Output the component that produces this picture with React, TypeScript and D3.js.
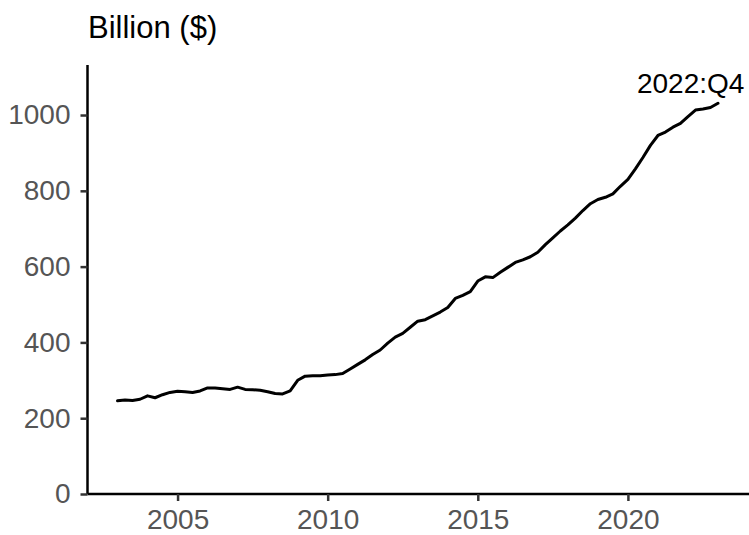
import React, { useEffect, useRef } from 'react';
import * as d3 from 'd3';

// quarters from 2002:Q4 to 2022:Q4, plotted at the end of each quarter
const years: number[] = [
    2002,
    2003, 2003, 2003, 2003,
    2004, 2004, 2004, 2004,
    2005, 2005, 2005, 2005,
    2006, 2006, 2006, 2006,
    2007, 2007, 2007, 2007,
    2008, 2008, 2008, 2008,
    2009, 2009, 2009, 2009,
    2010, 2010, 2010, 2010,
    2011, 2011, 2011, 2011,
    2012, 2012, 2012, 2012,
    2013, 2013, 2013, 2013,
    2014, 2014, 2014, 2014,
    2015, 2015, 2015, 2015,
    2016, 2016, 2016, 2016,
    2017, 2017, 2017, 2017,
    2018, 2018, 2018, 2018,
    2019, 2019, 2019, 2019,
    2020, 2020, 2020, 2020,
    2021, 2021, 2021, 2021,
    2022, 2022, 2022, 2022,
];

const quarters: number[] = [
    4,
    1, 2, 3, 4, 1, 2, 3, 4, 1, 2, 3, 4, 1, 2, 3, 4, 1, 2, 3, 4,
    1, 2, 3, 4, 1, 2, 3, 4, 1, 2, 3, 4, 1, 2, 3, 4, 1, 2, 3, 4,
    1, 2, 3, 4, 1, 2, 3, 4, 1, 2, 3, 4, 1, 2, 3, 4, 1, 2, 3, 4,
    1, 2, 3, 4, 1, 2, 3, 4, 1, 2, 3, 4, 1, 2, 3, 4, 1, 2, 3, 4,
];

// Billion ($)
const values: number[] = [
    246,
    248, 247, 250, 259,
    254, 262, 268, 271,
    270, 268, 272, 280,
    280, 278, 276, 282,
    276, 275, 274, 270,
    265, 264, 272, 300,
    311, 312, 312, 314,
    315, 318, 330, 342,
    354, 368, 380, 398,
    414, 424, 440, 456,
    460, 470, 480, 492,
    516, 524, 534, 562,
    573, 571, 585, 598,
    611, 618, 626, 638,
    658, 676, 694, 710,
    728, 748, 766, 777,
    783, 792, 812, 830,
    858, 888, 920, 946,
    955, 968, 978, 996,
    1013, 1016, 1020, 1031,
];

const xTicks = [2005, 2010, 2015, 2020];
const yTicks = [0, 200, 400, 600, 800, 1000];
const yLabel = 'Billion ($)';

interface Point {
    t: number;
    value: number;
}

const Chart: React.FC = () => {
    const containerRef = useRef<HTMLDivElement>(null);

    useEffect(() => {
        if (!containerRef.current) return;
        const container = d3.select(containerRef.current);

        const width = 749;
        const height = 535;
        const font = '"Liberation Sans", Arial, sans-serif';

        const data: Point[] = values.map((v, i) => ({
            t: years[i] + quarters[i] / 4,
            value: v,
        }));

        const xScale = d3.scaleLinear().domain([2002, 2024]).range([87.5, 748]);
        const yScale = d3.scaleLinear().domain([0, 1132]).range([494, 65]);

        const svg = container
            .append('svg')
            .attr('width', width)
            .attr('height', height)
            .style('display', 'block')
            .style('font-family', font);

        svg.append('rect').attr('width', width).attr('height', height).attr('fill', 'white');

        // axes
        const xAxis = d3.axisBottom(xScale).tickValues(xTicks).tickFormat(d3.format('d')).tickSize(7).tickPadding(8);
        const yAxis = d3.axisLeft(yScale).tickValues(yTicks).tickFormat(d3.format('d')).tickSize(7).tickPadding(10);

        const gx = svg.append('g').attr('transform', `translate(0,${yScale(0)})`).call(xAxis);
        const gy = svg.append('g').attr('transform', `translate(${xScale(2002)},0)`).call(yAxis);

        [gx, gy].forEach((g) => {
            g.select('.domain').attr('stroke', 'black').attr('stroke-width', 2.5);
            g.selectAll('.tick line').attr('stroke', '#333333').attr('stroke-width', 2.5);
            g.selectAll('.tick text')
                .attr('fill', '#555555')
                .style('font-size', '28px')
                .style('font-family', font);
        });
        gy.select('.domain').attr('d', `M0,${yScale(0)}V65`);
        gx.select('.domain').attr('d', `M${xScale(2002)},0H${width}`);

        // line
        const line = d3
            .line<Point>()
            .x((d) => xScale(d.t))
            .y((d) => yScale(d.value))
            .curve(d3.curveLinear);

        svg.append('path')
            .datum(data)
            .attr('fill', 'none')
            .attr('stroke', 'black')
            .attr('stroke-width', 3)
            .attr('stroke-linejoin', 'round')
            .attr('stroke-linecap', 'round')
            .attr('d', line);

        // labels
        svg.append('text')
            .attr('x', 88)
            .attr('y', 38)
            .attr('fill', 'black')
            .style('font-size', '31px')
            .text(yLabel);

        const last = data[data.length - 1];
        svg.append('text')
            .attr('x', xScale(last.t) - 81)
            .attr('y', yScale(last.value) - 10)
            .attr('fill', 'black')
            .style('font-size', '28px')
            .text(`${years[years.length - 1]}:Q${quarters[quarters.length - 1]}`);

        return () => {
            svg.remove();
        };
    }, []);

    return <div ref={containerRef} style={{ position: 'absolute', left: 0, top: 0 }} />;
};

export default function App() {
    return <Chart />;
}
